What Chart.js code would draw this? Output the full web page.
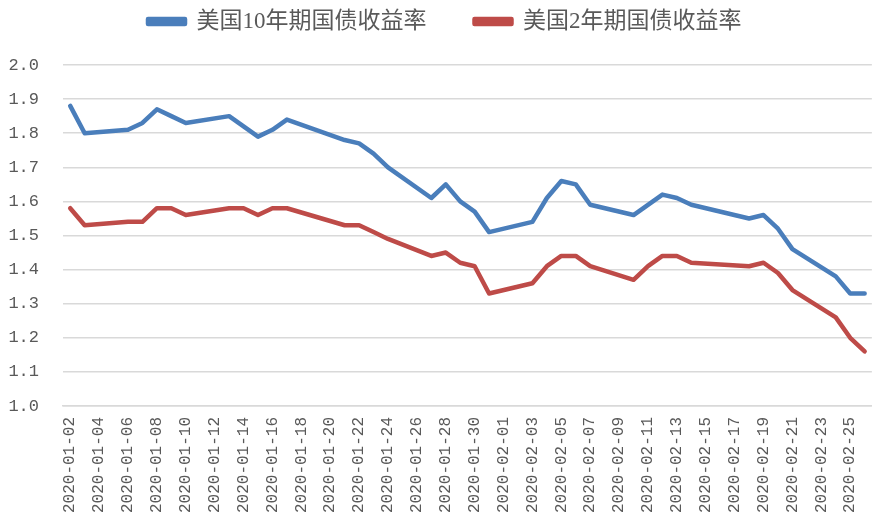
<!DOCTYPE html>
<html>
<head>
<meta charset="utf-8">
<script src="https://cdn.jsdelivr.net/npm/chart.js@4.4.1/dist/chart.umd.min.js"></script>
<style>
  html, body { margin: 0; padding: 0; background: #ffffff; }
  #wrap { width: 895px; height: 530px; position: relative; }
</style>
</head>
<body>
<div id="wrap"><canvas id="c" width="895" height="530"></canvas></div>
<script>
// Trading days shown in the chart
const tradeDates = [
  '2020-01-02','2020-01-03','2020-01-06','2020-01-07','2020-01-08','2020-01-09','2020-01-10',
  '2020-01-13','2020-01-14','2020-01-15','2020-01-16','2020-01-17',
  '2020-01-21','2020-01-22','2020-01-23','2020-01-24',
  '2020-01-27','2020-01-28','2020-01-29','2020-01-30','2020-01-31',
  '2020-02-03','2020-02-04','2020-02-05','2020-02-06','2020-02-07',
  '2020-02-10','2020-02-11','2020-02-12','2020-02-13','2020-02-14',
  '2020-02-18','2020-02-19','2020-02-20','2020-02-21',
  '2020-02-24','2020-02-25','2020-02-26'
];
// 美国10年期国债收益率
const us10y = [
  1.88, 1.80, 1.81, 1.83, 1.87, 1.85, 1.83,
  1.85, 1.82, 1.79, 1.81, 1.84,
  1.78, 1.77, 1.74, 1.70,
  1.61, 1.65, 1.60, 1.57, 1.51,
  1.54, 1.61, 1.66, 1.65, 1.59,
  1.56, 1.59, 1.62, 1.61, 1.59,
  1.55, 1.56, 1.52, 1.46,
  1.38, 1.33, 1.33
];
// 美国2年期国债收益率
const us2y = [
  1.58, 1.53, 1.54, 1.54, 1.58, 1.58, 1.56,
  1.58, 1.58, 1.56, 1.58, 1.58,
  1.53, 1.53, 1.51, 1.49,
  1.44, 1.45, 1.42, 1.41, 1.33,
  1.36, 1.41, 1.44, 1.44, 1.41,
  1.37, 1.41, 1.44, 1.44, 1.42,
  1.41, 1.42, 1.39, 1.34,
  1.26, 1.20, 1.16
];
const seriesNames = ['美国10年期国债收益率', '美国2年期国债收益率'];
const yMin = 1.0, yMax = 2.0, yStep = 0.1;

// Calendar-day category axis (Excel date axis)
function pad(n){ return n < 10 ? '0' + n : '' + n; }
const calendar = [];
{
  const start = new Date(tradeDates[0] + 'T00:00:00Z');
  const end = new Date(tradeDates[tradeDates.length - 1] + 'T00:00:00Z');
  for (let d = new Date(start); d <= end; d.setUTCDate(d.getUTCDate() + 1)) {
    calendar.push(d.getUTCFullYear() + '-' + pad(d.getUTCMonth() + 1) + '-' + pad(d.getUTCDate()));
  }
}
function onCalendar(values) {
  return calendar.map(day => {
    const i = tradeDates.indexOf(day);
    return i >= 0 ? values[i] : null;
  });
}

const mono = '"Liberation Mono", "Noto Sans CJK SC", monospace';
const legendFont = '"Liberation Serif", "Noto Sans CJK SC", serif';
const textColor = '#595959';
const gridColor = '#d9d9d9';

const LEGEND_PAD = 48;
const legendLayout = {
  id: 'legendLayout',
  beforeLayout(chart) {
    const lg = chart.legend;
    if (lg && !lg._patched) {
      const f = lg.fit;
      lg.fit = function() { f.call(this); this.height = 65; };
      lg._patched = true;
    }
  },
  afterLayout(chart) {
    const lg = chart.legend;
    if (!lg) return;
    const w = lg.right - lg.left;
    lg.left = 148 - LEGEND_PAD;
    lg.right = lg.left + w;
    lg.top = 10 - LEGEND_PAD;
  }
};

new Chart(document.getElementById('c'), {
  type: 'line',
  data: {
    labels: calendar,
    datasets: [
      { label: seriesNames[0], data: onCalendar(us10y), borderColor: '#4a7ebb', backgroundColor: '#4a7ebb',
        borderWidth: 4.5, pointRadius: 0, pointHoverRadius: 0, spanGaps: true, tension: 0, borderJoinStyle: 'round', borderCapStyle: 'round' },
      { label: seriesNames[1], data: onCalendar(us2y), borderColor: '#be4b48', backgroundColor: '#be4b48',
        borderWidth: 4.5, pointRadius: 0, pointHoverRadius: 0, spanGaps: true, tension: 0, borderJoinStyle: 'round', borderCapStyle: 'round' }
    ]
  },
  plugins: [legendLayout],
  options: {
    responsive: false,
    animation: false,
    events: [],
    layout: { padding: { left: 0, right: 18, top: 0, bottom: 0 } },
    plugins: {
      tooltip: { enabled: false },
      legend: {
        position: 'top',
        align: 'start',
        labels: {
          color: textColor,
          font: { family: legendFont, size: 23 },
          boxWidth: 37,
          boxHeight: 5,
          padding: LEGEND_PAD
        }
      }
    },
    scales: {
      x: {
        type: 'category',
        offset: true,
        grid: { display: false, drawTicks: false },
        border: { display: true, color: gridColor, width: 1.5 },
        afterFit: (s) => { s.height = 124; },
        ticks: {
          autoSkip: false,
          maxRotation: 90,
          minRotation: 90,
          padding: 11,
          color: textColor,
          font: { family: mono, size: 16 },
          callback: function(v, i) { return i % 2 === 0 ? this.getLabelForValue(v) : ''; }
        }
      },
      y: {
        min: yMin,
        max: yMax,
        afterFit: (s) => { s.width = 63; },
        grid: { color: gridColor, lineWidth: 1.5, drawTicks: false },
        border: { display: false },
        ticks: {
          stepSize: yStep,
          padding: 24,
          color: textColor,
          font: { family: mono, size: 17 },
          callback: (v) => Number(v).toFixed(1)
        }
      }
    }
  }
});
</script>
</body>
</html>
